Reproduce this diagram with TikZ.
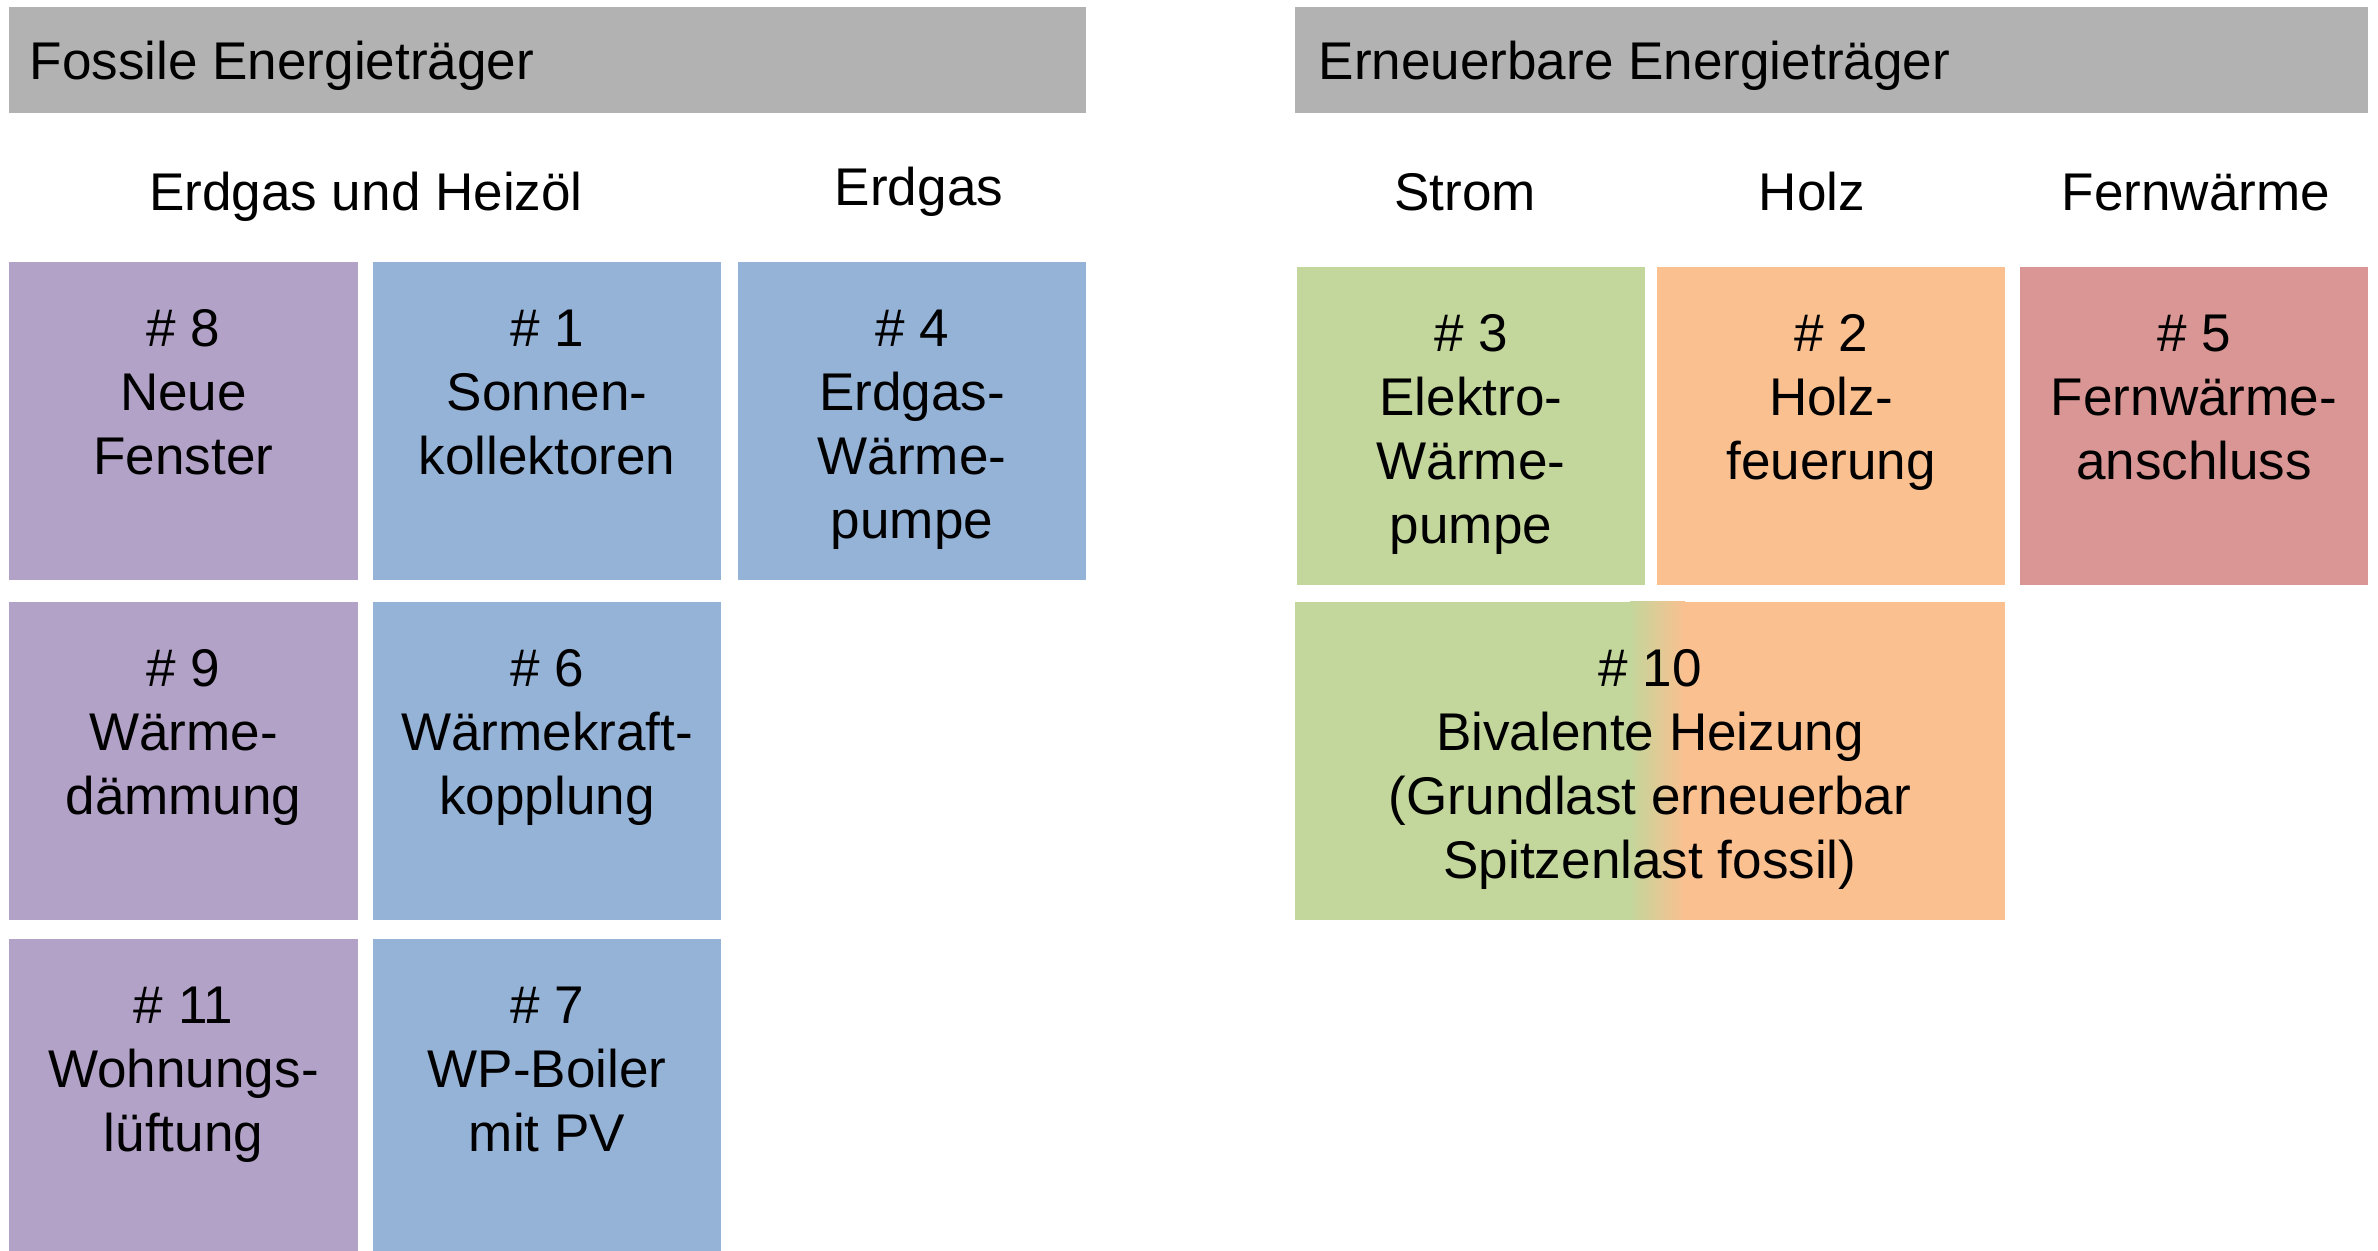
\documentclass[tikz,border=0pt]{standalone}
\usepackage{fontspec}
\setmainfont{Liberation Sans}
\definecolor{headgray}{HTML}{B2B2B2}
\definecolor{mpurple}{HTML}{B3A2C7}
\definecolor{mblue}{HTML}{95B3D7}
\definecolor{mgreen}{HTML}{C3D69B}
\definecolor{morange}{HTML}{FAC090}
\definecolor{mred}{HTML}{D99694}
\tikzset{
  headtext/.style={anchor=base west, inner sep=0pt, font=\fontsize{15.1pt}{18.2pt}\selectfont},
  subtext/.style={anchor=base, inner sep=0pt, font=\fontsize{15.1pt}{18.2pt}\selectfont},
  boxtext/.style={anchor=north, align=center, inner sep=0pt, font=\fontsize{15.1pt}{18.2pt}\selectfont}
}
\begin{document}
\begin{tikzpicture}[x=1mm, y=-1mm]
\useasboundingbox (0,0) rectangle (237.8,125.1);
% Headers
\fill[headgray] (0.9,0.7) rectangle (108.6,11.3);
\fill[headgray] (129.5,0.7) rectangle (236.8,11.3);
\node[headtext] (fossil) at (2.9,8.0) {Fossile Energieträger};
\node[headtext] (renew) at (131.8,8.0) {Erneuerbare Energieträger};
\node[subtext] (oilgas) at (36.6,21.1) {Erdgas und Heizöl};
\node[subtext] (gas) at (91.9,20.6) {Erdgas};
\node[subtext] (power) at (146.5,21.1) {Strom};
\node[subtext] (wood) at (181.2,21.1) {Holz};
\node[subtext] (district) at (219.6,21.1) {Fernwärme};

% Fossil side
\fill[mpurple] (0.9,26.2) rectangle (35.8,58.0);
\fill[mblue] (37.3,26.2) rectangle (72.1,58.0);
\fill[mblue] (73.8,26.2) rectangle (108.6,58.0);
\fill[mpurple] (0.9,60.2) rectangle (35.8,92.0);
\fill[mblue] (37.3,60.2) rectangle (72.1,92.0);
\fill[mpurple] (0.9,93.9) rectangle (35.8,125.1);
\fill[mblue] (37.3,93.9) rectangle (72.1,125.1);
\node[boxtext] (m8) at (18.35,30.9) {\# 8\\Neue\\Fenster};
\node[boxtext] (m1) at (54.7,30.9) {\# 1\\Sonnen-\\kollektoren};
\node[boxtext] (m4) at (91.2,30.9) {\# 4\\Erdgas-\\Wärme-\\pumpe};
\node[boxtext] (m9) at (18.35,64.9) {\# 9\\Wärme-\\dämmung};
\node[boxtext] (m6) at (54.7,64.9) {\# 6\\Wärmekraft-\\kopplung};
\node[boxtext] (m11) at (18.35,98.6) {\# 11\\Wohnungs-\\lüftung};
\node[boxtext] (m7) at (54.7,98.6) {\# 7\\WP-Boiler\\mit PV};

% Renewable side
\fill[mgreen] (129.7,26.7) rectangle (164.5,58.5);
\fill[morange] (165.7,26.7) rectangle (200.5,58.5);
\fill[mred] (202.0,26.7) rectangle (236.8,58.5);
\fill[mgreen] (129.5,60.2) rectangle (163.2,92.0);
\shade[left color=mgreen, right color=morange] (163.0,60.2) rectangle (168.5,92.0);
\fill[morange] (168.3,60.2) rectangle (200.5,92.0);
\node[boxtext] (m3) at (147.1,31.4) {\# 3\\Elektro-\\Wärme-\\pumpe};
\node[boxtext] (m2) at (183.1,31.4) {\# 2\\Holz-\\feuerung};
\node[boxtext] (m5) at (219.4,31.4) {\# 5\\Fernwärme-\\anschluss};
\node[boxtext] (m10) at (165.0,64.9) {\# 10\\Bivalente Heizung\\(Grundlast erneuerbar\\Spitzenlast fossil)};
\end{tikzpicture}
\end{document}
